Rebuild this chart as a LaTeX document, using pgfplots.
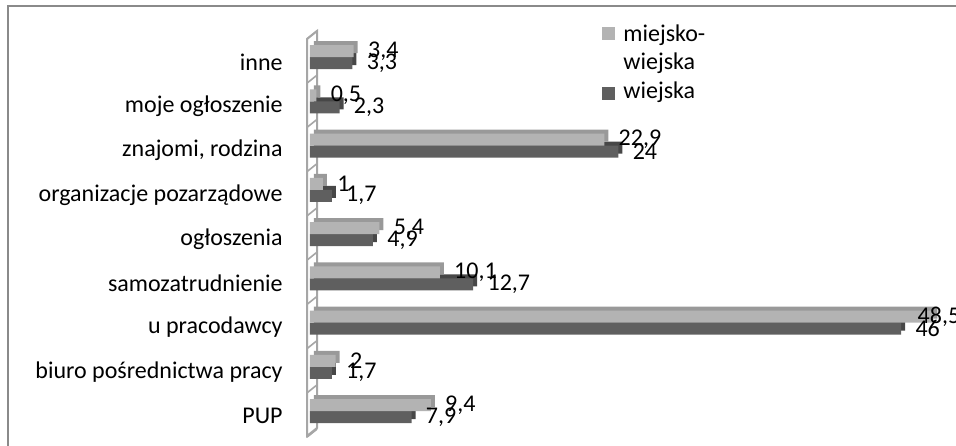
\documentclass[border=0pt]{standalone}
\usepackage{pgfplots}
\pgfplotsset{compat=1.18}
\usepackage{fontspec}
\setmainfont{Carlito}

\definecolor{lightfront}{HTML}{B3B3B3}
\definecolor{lightdepth}{HTML}{999999}
\definecolor{darkfront}{HTML}{5F5F5F}
\definecolor{darkdepth}{HTML}{474747}
\definecolor{wallgray}{HTML}{A6A6A6}
\definecolor{framegray}{HTML}{8A8A8A}

% pixel grid of the whole figure: origin top left, 1 unit = 0.5pt
\tikzset{px/.style={x=0.5pt,y=-0.5pt,shift={(-155pt,222.5pt)}}}

\begin{document}
\begin{tikzpicture}[font=\fontsize{12}{14}\selectfont]

% outer frame
\begin{scope}[px]
  \draw[framegray, line width=1pt] (8,470) -- (8,6) -- (980,6);
  % back wall of the category axis
  \draw[wallgray, fill=white, line width=1pt]
    (307,436) -- (307,39) -- (317,31) -- (317,428) -- cycle;
  \foreach \k in {-0.5,0.5,...,8.5}
    \draw[wallgray, line width=0.8pt] (307,{411-\k*44.25+4}) -- (317,{411-\k*44.25-4});
\end{scope}

\begin{axis}[
  scale only axis,
  width=323pt, height=222.5pt,
  xmin=0, xmax=50.27,
  ymin=-0.768, ymax=9.288,
  axis line style={draw=none},
  hide x axis,
  major tick length=0pt,
  xbar, bar width=6pt,
  ytick={0,...,8},
  yticklabels={PUP, biuro pośrednictwa pracy, u pracodawcy, samozatrudnienie,
    ogłoszenia, organizacje pozarządowe, {znajomi, rodzina}, moje ogłoszenie, inne},
  yticklabel style={anchor=east, inner sep=0pt, xshift=-13.5pt, yshift=-2.5pt},
  clip=false,
  /pgf/number format/use comma,
  /pgf/number format/assume math mode=true,
  nodes near coords style={anchor=west, inner sep=0pt, xshift=7pt, text=black},
]
% wiejska: depth face, then front face with values
\addplot[draw=none, fill=darkdepth, bar shift=-3pt, xshift=2pt, yshift=2pt]
  coordinates {(7.9,0) (1.7,1) (46,2) (12.7,3) (4.9,4) (1.7,5) (24,6) (2.3,7) (3.3,8)};
\addplot[draw=none, fill=darkfront, bar shift=-3pt, nodes near coords]
  coordinates {(7.9,0) (1.7,1) (46,2) (12.7,3) (4.9,4) (1.7,5) (24,6) (2.3,7) (3.3,8)};
% miejsko-wiejska
\addplot[draw=none, fill=lightdepth, bar shift=3pt, xshift=2pt, yshift=2pt]
  coordinates {(9.4,0) (2,1) (48.5,2) (10.1,3) (5.4,4) (1,5) (22.9,6) (0.5,7) (3.4,8)};
\addplot[draw=none, fill=lightfront, bar shift=3pt, nodes near coords,
    coordinate style/.condition={x>40}{xshift=-15pt}]
  coordinates {(9.4,0) (2,1) (48.5,2) (10.1,3) (5.4,4) (1,5) (22.9,6) (0.5,7) (3.4,8)};
\end{axis}

% legend
\begin{scope}[px]
  \fill[lightfront] (602,27) rectangle (615,40);
  \node[anchor=base west, inner sep=0pt] at (623,42) {miejsko-};
  \node[anchor=base west, inner sep=0pt] at (623,70) {wiejska};
  \fill[darkfront] (602,87) rectangle (615,100);
  \node[anchor=base west, inner sep=0pt] at (623,98.5) {wiejska};
\end{scope}

\pgfresetboundingbox
\path[px, use as bounding box] (0,0) rectangle (956,445);
\end{tikzpicture}
\end{document}
